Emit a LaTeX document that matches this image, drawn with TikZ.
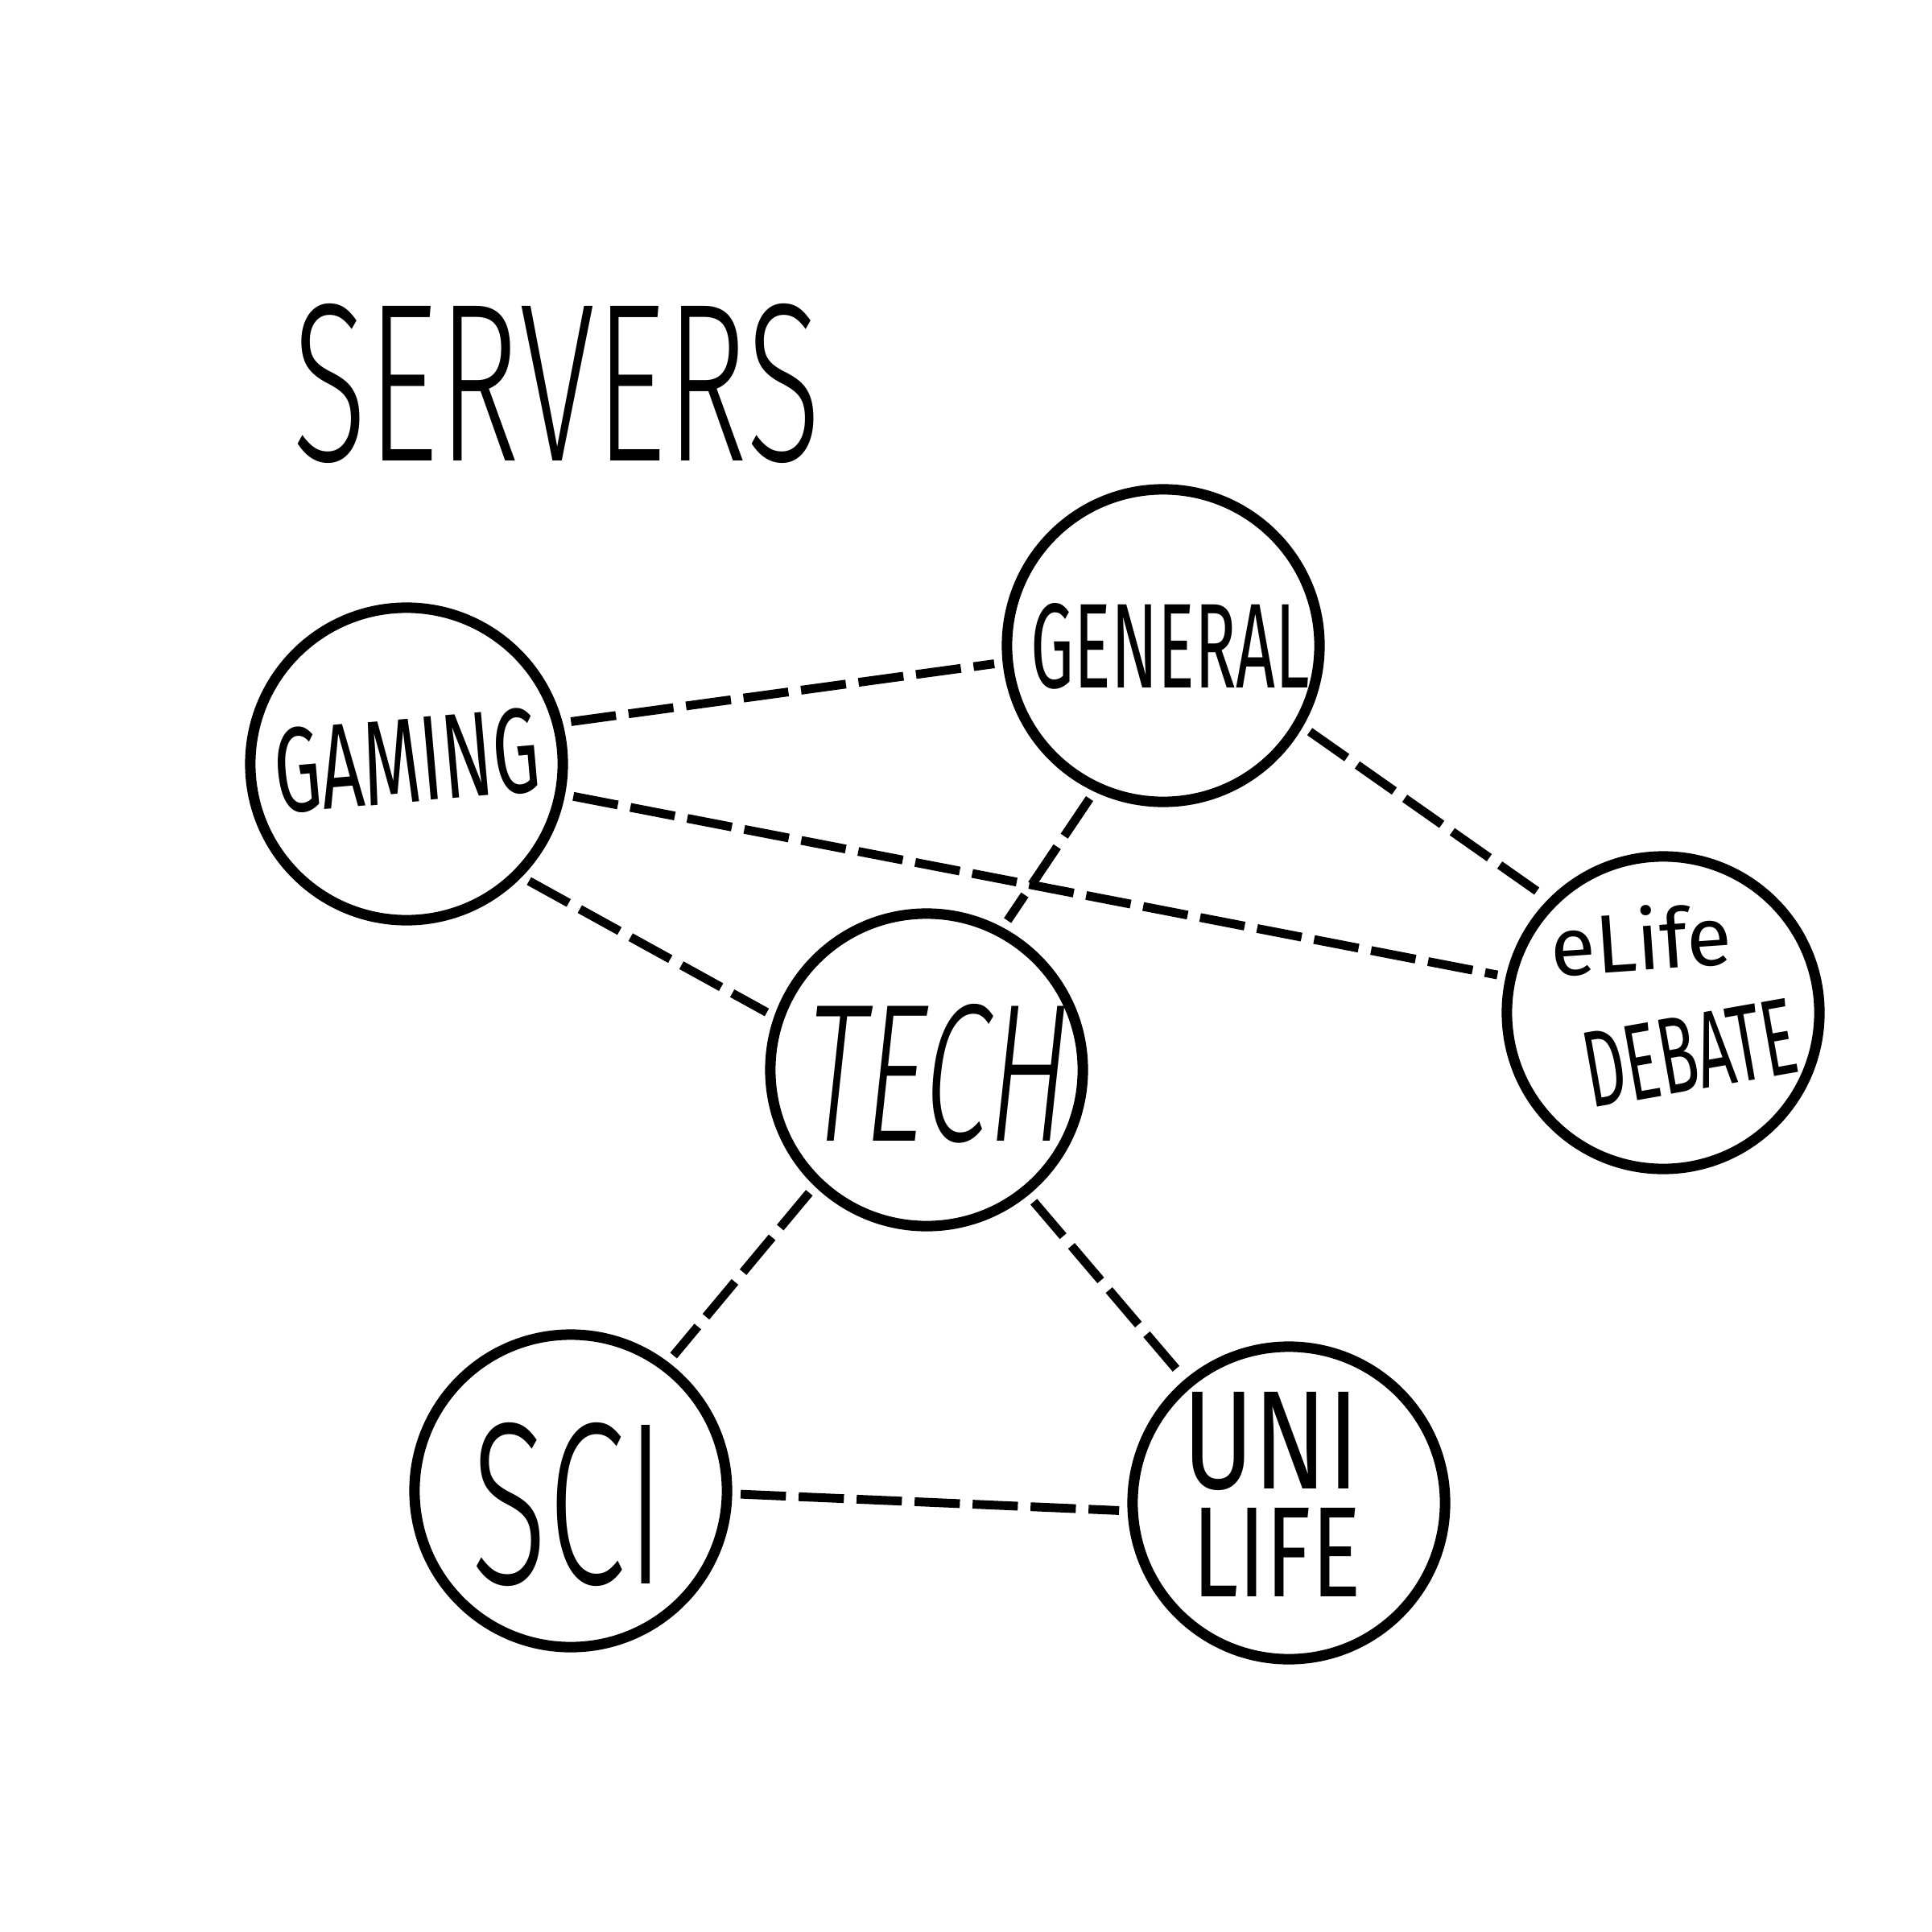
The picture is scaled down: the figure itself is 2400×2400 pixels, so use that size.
\documentclass[tikz,border=0pt]{standalone}
\usepackage{fontspec}
\usepackage{graphicx}
\newfontfamily\handfont{Fira Sans Light}
\newfontfamily\handbold{Fira Sans}
\newfontfamily\handslant{Fira Sans Light}[FakeSlant=0.18]
\newcommand{\htext}[3]{\resizebox{#1}{#2}{\handfont #3}}
\newcommand{\hbtext}[3]{\resizebox{#1}{#2}{\handbold #3}}
\newcommand{\hstext}[3]{\resizebox{#1}{#2}{\handslant #3}}
\begin{document}
\begin{tikzpicture}[x=0.01cm,y=-0.01cm,
  srv/.style={circle, draw, line width=3.7pt, minimum size=3.88cm, inner sep=0pt, outer sep=0pt, fill=white},
  link/.style={line width=3.1pt, dash pattern=on 16pt off 4.5pt, shorten >=0.17cm, shorten <=0.17cm},
  lbl/.style={inner sep=0pt, outer sep=0pt}]
\useasboundingbox[fill=white] (0,0) rectangle (2400,2400);
% servers
\node[srv] (gaming)  at (505,949)   {};
\node[srv] (general) at (1445,802)  {};
\node[srv] (debate)  at (2066,1258) {};
\node[srv] (tech)    at (1151,1329) {};
\node[srv] (sci)     at (709,1852)  {};
\node[srv] (uni)     at (1601,1867) {};
% labels
\node[lbl] (title) at (692,476) {\htext{6.56cm}{1.95cm}{SERVERS}};
\node[lbl, rotate=5] (tgaming) at (505,945) {\hbtext{3.3cm}{1.05cm}{GAMING}};
\node[lbl] (tgeneral) at (1454,803) {\hbtext{3.46cm}{1.05cm}{GENERAL}};
\node[lbl] (ttech) at (1158,1334) {\hstext{3.25cm}{1.7cm}{TECH}};
\node[lbl, rotate=4] (telife) at (2038,1166) {\hbtext{2.25cm}{0.8cm}{eLife}};
\node[lbl, rotate=10] (tdebate) at (2099,1308) {\hbtext{2.66cm}{0.93cm}{DEBATE}};
\node[lbl] (tsci) at (706,1869) {\htext{2.41cm}{2.0cm}{SCI}};
\node[lbl] (tuni) at (1579,1790) {\hbtext{2.19cm}{1.2cm}{UNI}};
\node[lbl] (tlife) at (1586,1928) {\hbtext{2.09cm}{1.1cm}{LIFE}};
% links
\draw[link] (gaming.15) -- (general.186);
\draw[link] (gaming.-11) -- (debate.167);
\draw[link] (gaming.-45) -- (tech.161);
\draw[link] (general.-30) -- (debate.135);
\draw[link] (general.245) -- (tech.62);
\draw[link] (tech.226) -- (sci.53);
\draw[link] (tech.-51) -- (uni.130);
\draw[link] (sci.-1) -- (uni.183);
\end{tikzpicture}
\end{document}
